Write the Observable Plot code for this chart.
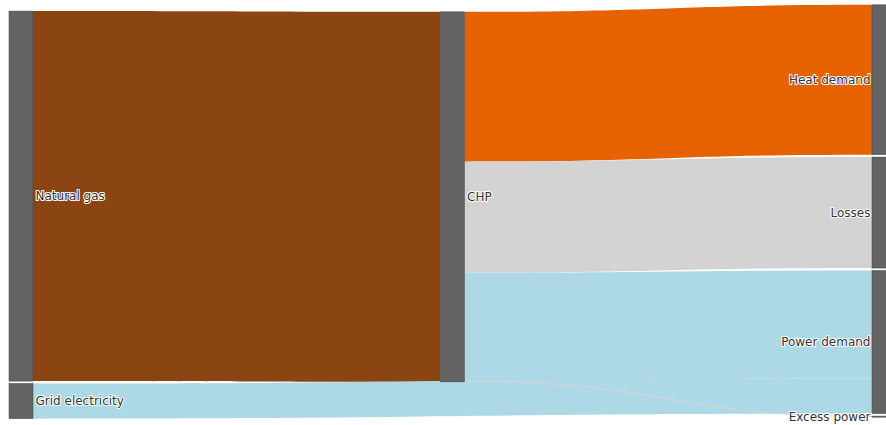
<!DOCTYPE html>
<html>
<head>
<meta charset="utf-8">
<script src="https://cdn.jsdelivr.net/npm/d3@7"></script>
<script src="https://cdn.jsdelivr.net/npm/@observablehq/plot@0.6"></script>
<style>
  html, body { margin: 0; padding: 0; background: #fff; overflow: hidden; }
  #chart svg { display: block; }
</style>
</head>
<body>
<div id="chart"></div>
<script>
// ---- data ----
const nodeNames = ["Natural gas", "Grid electricity", "CHP", "Heat demand", "Losses", "Power demand", "Excess power"];
const nodeColumn = [0, 0, 1, 2, 2, 2, 2];
const linkSource = [0, 2, 2, 2, 1, 2];
const linkTarget = [2, 3, 4, 5, 5, 6];
const linkValue = [100, 40.5, 30, 29.2, 9.5, 0.3];
const linkColor = ["#8B4513", "#E66100", "#D3D3D3", "#ADD8E6", "#ADD8E6", "#D3D3D3"];

// ---- layout settings (value units / column units) ----
const columnTop = [3.0, 3.2, 1.3];
const nodePad = 0.65;
const nodeWidth = 24 / 431.5;
const pxPerUnit = 3.7;
const W = 886, H = 425;

// ---- sankey layout ----
const nodes = nodeNames.map((name, i) => {
  const inV = d3.sum(linkValue.filter((v, j) => linkTarget[j] === i));
  const outV = d3.sum(linkValue.filter((v, j) => linkSource[j] === i));
  return {name, i, col: nodeColumn[i], value: Math.max(inV, outV)};
});
for (const c of d3.union(nodeColumn)) {
  let y = columnTop[c];
  for (const n of nodes.filter(n => n.col === c)) {
    n.y0 = y; n.y1 = y + n.value; y = n.y1 + nodePad;
  }
}
const links = linkValue.map((v, j) => ({id: j, s: nodes[linkSource[j]], t: nodes[linkTarget[j]], value: v, color: linkColor[j]}));
for (const n of nodes) {
  let y = n.y0;
  for (const l of links.filter(l => l.s === n).sort((a, b) => a.t.y0 - b.t.y0)) { l.sy0 = y; y += l.value; l.sy1 = y; }
  y = n.y0;
  for (const l of links.filter(l => l.t === n).sort((a, b) => a.s.y0 - b.s.y0)) { l.ty0 = y; y += l.value; l.ty1 = y; }
}
const linkPoints = links.flatMap(l => [
  {id: l.id, x: l.s.col + nodeWidth, y1: l.sy0, y2: l.sy1, color: l.color},
  {id: l.id, x: l.t.col, y1: l.ty0, y2: l.ty1, color: l.color}
]);
const labels = nodes.map(n => ({
  name: n.name,
  x: n.col === 2 ? n.col : n.col + nodeWidth,
  y: (n.y0 + n.y1) / 2,
  right: n.col === 2
}));

const chart = Plot.plot({
  width: W, height: H,
  margin: 0,
  style: {fontFamily: "'DejaVu Sans', Verdana, sans-serif", background: "#fff"},
  x: {domain: [0, 2], range: [9, 872], axis: null},
  y: {domain: [0, H / pxPerUnit], range: [0, H], axis: null},
  color: {type: "identity"},
  marks: [
    Plot.area(linkPoints, {x1: "x", y1: "y1", y2: "y2", z: "id", fill: "color", curve: "bump-x"}),
    Plot.rect(nodes, {x1: d => d.col, x2: d => d.col + nodeWidth, y1: "y0", y2: "y1", fill: "#636363", stroke: "#444", strokeWidth: 0.5}),
    Plot.text(labels.filter(d => !d.right), {x: "x", y: "y", text: "name", textAnchor: "start", dx: 2, fontSize: 12, fill: "#333", stroke: "white", strokeWidth: 2}),
    Plot.text(labels.filter(d => d.right), {x: "x", y: "y", text: "name", textAnchor: "end", dx: -2, fontSize: 12, fill: "#333", stroke: "white", strokeWidth: 2})
  ]
});
document.getElementById("chart").appendChild(chart);
</script>
</body>
</html>
